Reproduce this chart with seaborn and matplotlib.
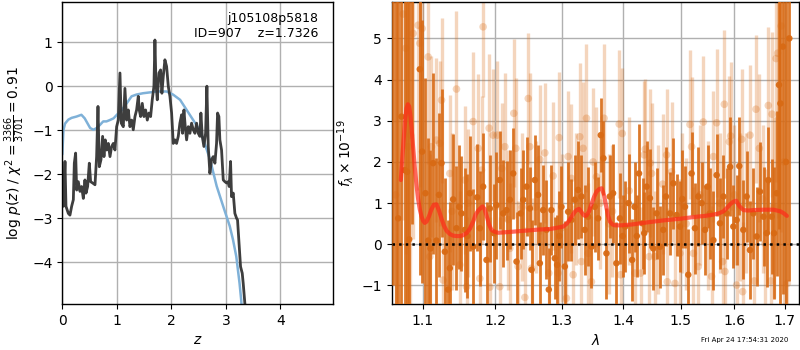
import matplotlib
matplotlib.use("Agg")
import matplotlib.pyplot as plt
import matplotlib.ticker as mticker
import numpy as np
import seaborn as sns

# redshift fit: log p(z) (dark) and prior (blue)
pz_z = [0.000, 0.018, 0.049, 0.067, 0.110, 0.140, 0.171, 0.202, 0.220, 0.244,
        0.263, 0.293, 0.324, 0.354, 0.385, 0.415, 0.434, 0.464, 0.495, 0.519,
        0.556, 0.599, 0.629, 0.654, 0.678, 0.709, 0.739, 0.764, 0.788, 0.812,
        0.843, 0.874, 0.904, 0.935, 0.965, 0.996, 1.026, 1.057, 1.081, 1.118,
        1.148, 1.179, 1.210, 1.240, 1.271, 1.301, 1.332, 1.362, 1.393, 1.411,
        1.436, 1.466, 1.497, 1.527, 1.558, 1.588, 1.619, 1.649, 1.680, 1.698,
        1.717, 1.741, 1.772, 1.802, 1.826, 1.851, 1.881, 1.912, 1.943, 1.973,
        2.004, 2.034, 2.065, 2.095, 2.126, 2.156, 2.187, 2.205, 2.230, 2.254,
        2.279, 2.309, 2.340, 2.370, 2.401, 2.431, 2.462, 2.492, 2.523, 2.541,
        2.566, 2.596, 2.627, 2.651, 2.676, 2.706, 2.737, 2.767, 2.798, 2.828,
        2.847, 2.871, 2.889, 2.920, 2.951, 2.981, 3.012, 3.042, 3.060, 3.085,
        3.103, 3.134, 3.164, 3.195, 3.213, 3.244, 3.268, 3.299, 3.317, 3.348,
        3.400]
pz_logp = [-2.43, -2.73, -1.71, -2.73, -2.89, -2.93, -2.73, -2.58, -1.75, -1.52,
           -2.36, -2.17, -2.39, -2.28, -2.55, -2.13, -2.43, -2.28, -1.75, -2.17,
           -2.20, -2.24, -1.60, -0.46, -1.83, -1.67, -1.14, -1.60, -1.22, -1.45,
           -1.30, -1.60, -1.37, -1.30, -1.45, -0.92, -0.77, 0.30, -0.84, -0.92,
           -0.05, -0.77, -0.54, -0.92, -0.77, -0.99, -0.69, -0.54, -0.23, -0.54,
           -0.69, -0.39, -0.69, -0.54, -0.77, -0.61, -0.69, -0.31, 0.00, 1.05,
           0.07, -0.31, 0.30, 0.37, -0.16, 0.22, 0.60, 0.45, 0.00, -0.23,
           -0.61, -1.30, -1.22, -1.30, -1.14, -0.84, -0.65, -1.07, -0.54, -0.92,
           -1.22, -0.92, -1.07, -0.84, -0.99, -1.07, -0.84, -1.07, -1.14, -0.61,
           -1.14, -1.37, -1.07, 0.00, -1.37, -1.98, -1.67, -1.60, -1.75, -1.30,
           -0.61, -0.69, -1.22, -1.45, -2.13, -2.17, -2.20, -2.17, -2.28, -1.71,
           -2.51, -2.43, -2.89, -3.00, -3.04, -3.64, -4.10, -4.25, -4.48, -4.95,
           -5.60]

prior_z = [0.00, 0.02, 0.05, 0.11, 0.17, 0.26, 0.35, 0.41, 0.46, 0.51,
           0.57, 0.63, 0.69, 0.75, 0.81, 0.87, 0.94, 1.00, 1.09, 1.18,
           1.27, 1.36, 1.48, 1.61, 1.73, 1.91, 2.03, 2.16, 2.28, 2.40,
           2.52, 2.61, 2.71, 2.83, 2.95, 3.07, 3.13, 3.19, 3.25, 3.28, 3.30]
prior_logp = [-1.55, -1.00, -0.85, -0.76, -0.72, -0.69, -0.65, -0.73, -0.84, -0.95,
              -0.99, -0.95, -0.88, -0.80, -0.80, -0.77, -0.73, -0.65, -0.54, -0.39,
              -0.23, -0.19, -0.16, -0.14, -0.12, -0.12, -0.19, -0.31, -0.54, -0.77,
              -1.00, -1.30, -1.67, -2.27, -2.73, -3.18, -3.49, -3.87, -4.48, -4.86, -5.20]

# spectrum, first orientation (dark)
dark_wave = [1.0620, 1.0652, 1.0683, 1.0725, 1.0768, 1.0799, 1.0825, 1.0868, 1.0964, 1.0995,
             1.1039, 1.1075, 1.1106, 1.1141, 1.1186, 1.1220, 1.1254, 1.1299, 1.1344, 1.1367,
             1.1412, 1.1458, 1.1495, 1.1527, 1.1574, 1.1610, 1.1643, 1.1690, 1.1747, 1.1784,
             1.1831, 1.1879, 1.1927, 1.1984, 1.2022, 1.2070, 1.2119, 1.2168, 1.2217, 1.2266,
             1.2315, 1.2375, 1.2414, 1.2464, 1.2514, 1.2539, 1.2589, 1.2639, 1.2665, 1.2715,
             1.2766, 1.2802, 1.2843, 1.2895, 1.2931, 1.2965, 1.2998, 1.3051, 1.3103, 1.3155,
             1.3208, 1.3261, 1.3314, 1.3367, 1.3421, 1.3475, 1.3529, 1.3583, 1.3627, 1.3670,
             1.3720, 1.3775, 1.3830, 1.3885, 1.3944, 1.3990, 1.4032, 1.4090, 1.4150, 1.4191,
             1.4230, 1.4268, 1.4328, 1.4357, 1.4398, 1.4456, 1.4514, 1.4572, 1.4631, 1.4689,
             1.4737, 1.4808, 1.4867, 1.4927, 1.4987, 1.5030, 1.5077, 1.5137, 1.5198, 1.5259,
             1.5320, 1.5382, 1.5445, 1.5491, 1.5537, 1.5601, 1.5662, 1.5725, 1.5790, 1.5851,
             1.5917, 1.5979, 1.6043, 1.6094, 1.6172, 1.6237, 1.6302, 1.6367, 1.6433, 1.6499,
             1.6570, 1.6632, 1.6665, 1.6732, 1.6779, 1.6832, 1.6880, 1.6909, 1.6959, 1.7023,
             1.7091]
dark_flux = [7.0, -2.0, 0.63, 3.1, 1.8, 1.76, 0.12, 6.5, 4.25, 2.25,
             1.24, 0.09, -0.1, 1.97, 0.09, 1.2, 1.97, -0.18, -1.1, -0.58,
             1.09, 0.39, 0.91, 0.75, 0.35, 0.2, 1.24, -0.06, 1.14, 0.39,
             1.4, -0.38, 0.87, 0.27, 0.95, 1.56, 0.75, 0.83, 1.08, 1.72,
             -0.42, 0.75, 1.08, 1.4, 0.87, -0.62, 1.56, 1.2, -0.46, 0.83,
             0.35, -1.1, 0.83, -0.34, -0.5, 0.2, 0.91, -0.54, 0.79, 0.59,
             1.08, 1.32, 1.16, 0.35, 0.67, -0.06, 0.91, 0.63, 2.65, 2.09,
             -0.22, 1.16, 1.24, -0.46, 0.63, 0.2, 0.43, 1.0, -0.38, 0.91,
             0.2, 1.72, 0.51, 0.27, 1.4, 1.12, -0.1, 0.75, -0.06, 0.35,
             1.16, 0.75, 1.48, 0.71, 0.43, 1.1, 0.91, -0.74, 1.72, 0.39,
             1.16, 1.0, 0.35, 1.4, 0.75, 0.1, 1.68, 0.51, 1.16, 0.75,
             1.88, 0.43, 0.59, 1.9, 0.35, 1.16, -0.14, 0.75, 0.19, 1.28,
             0.67, 0.27, 1.56, 0.67, 0.27, 1.24, 3.87, 3.42, 4.8, 2.0,
             5.0]
dark_err = [8.0, 8.0, 6.0, 6.0, 6.0, 6.0, 6.0, 6.0, 5.0, 3.2,
            2.8, 2.5, 2.4, 2.2, 2.0, 2.0, 1.8, 1.8, 1.7, 1.6,
            1.6, 1.5, 1.5, 1.4, 1.5, 1.5, 1.4, 1.4, 1.3, 1.4,
            1.3, 1.4, 1.3, 1.2, 1.3, 1.2, 1.3, 1.2, 1.2, 1.1,
            1.2, 1.1, 1.2, 1.2, 1.0, 1.2, 1.1, 1.2, 1.0, 1.1,
            1.2, 1.0, 1.1, 1.0, 1.2, 1.1, 1.0, 1.1, 1.2, 1.0,
            1.1, 1.2, 1.0, 1.1, 1.2, 1.0, 1.1, 1.0, 0.9, 0.9,
            1.1, 1.0, 1.2, 1.0, 1.1, 1.0, 1.1, 1.2, 1.0, 1.1,
            1.0, 1.2, 1.1, 1.0, 1.1, 1.2, 1.0, 1.1, 1.0, 1.1,
            1.2, 1.0, 1.1, 1.0, 1.1, 1.2, 1.0, 1.1, 1.0, 1.1,
            1.2, 1.0, 1.1, 1.0, 1.1, 1.2, 1.0, 1.1, 1.0, 1.1,
            1.2, 1.0, 1.1, 1.2, 1.2, 1.1, 1.2, 1.1, 1.2, 1.2,
            1.2, 1.3, 1.3, 1.4, 1.6, 2.0, 3.5, 5.0, 6.0, 7.0,
            5.9]

# spectrum, second orientation (light)
light_wave = [1.0650, 1.0747, 1.0781, 1.0812, 1.0842, 1.0877, 1.0942, 1.0964, 1.0995, 1.1075,
              1.1097, 1.1119, 1.1186, 1.1231, 1.1254, 1.1276, 1.1367, 1.1397, 1.1458, 1.1505,
              1.1574, 1.1597, 1.1620, 1.1690, 1.1761, 1.1784, 1.1808, 1.1831, 1.1917, 1.1927,
              1.1974, 1.2032, 1.2070, 1.2100, 1.2144, 1.2190, 1.2217, 1.2275, 1.2305, 1.2339,
              1.2400, 1.2439, 1.2490, 1.2514, 1.2539, 1.2600, 1.2665, 1.2741, 1.2802, 1.2869,
              1.2946, 1.2962, 1.3000, 1.3076, 1.3103, 1.3155, 1.3182, 1.3230, 1.3288, 1.3314,
              1.3341, 1.3395, 1.3421, 1.3475, 1.3502, 1.3556, 1.3620, 1.3681, 1.3760, 1.3820,
              1.3932, 1.3955, 1.3983, 1.4100, 1.4197, 1.4295, 1.4357, 1.4375, 1.4444, 1.4462,
              1.4485, 1.4543, 1.4600, 1.4678, 1.4748, 1.4760, 1.4837, 1.4897, 1.4987, 1.5030,
              1.5100, 1.5168, 1.5198, 1.5230, 1.5320, 1.5350, 1.5413, 1.5500, 1.5568, 1.5601,
              1.5662, 1.5720, 1.5775, 1.5807, 1.5819, 1.5902, 1.5928, 1.6000, 1.6043, 1.6100,
              1.6140, 1.6159, 1.6220, 1.6302, 1.6387, 1.6420, 1.6486, 1.6550, 1.6599, 1.6665,
              1.6712, 1.6740, 1.6780, 1.6821, 1.6853, 1.6925, 1.6980, 1.7050]
light_flux = [1.2, 5.59, 4.76, 2.37, 2.65, 5.12, 5.32, 4.88, 5.24, 4.55,
              -0.3, 2.37, 2.53, 2.45, 3.5, -0.87, 1.72, 0.8, 3.77, -0.5,
              1.56, -1.03, 1.0, 2.98, 2.33, -0.83, 1.8, 5.28, 2.82, -1.04,
              2.65, 2.65, -1.03, 1.84, 2.37, 0.6, -0.1, 3.18, 2.33, -0.54,
              0.9, -1.29, 3.54, 2.37, -0.58, 0.9, 2.06, 2.22, -0.7, 1.66,
              -0.7, 2.59, 0.4, -1.31, 2.13, 1.6, -0.74, 1.1, 2.61, -0.42,
              2.33, 3.06, -0.22, -0.91, 2.0, 1.64, 1.0, 3.06, 0.5, 0.8,
              2.92, -0.74, 2.69, 1.3, -0.7, -0.7, 2.17, 2.31, -0.3, 1.97,
              1.72, -0.3, 0.6, 1.46, 2.17, -0.91, 1.76, -0.95, -0.22, 1.0,
              0.5, 2.91, 2.37, -0.22, -0.54, 1.2, 2.97, 0.7, -0.78, 2.13,
              2.95, 1.0, -0.42, 3.4, -0.66, 2.49, 2.63, 1.2, -0.99, 0.9,
              2.55, -1.15, 1.0, 2.65, -0.89, 3.28, 2.33, 1.1, 0.02, 3.37,
              -0.89, 3.16, 0.9, 4.51, 4.64, 5.3, 2.0, -0.95]
light_err = [6.0, 5.0, 5.0, 5.0, 5.0, 5.0, 4.0, 3.5, 3.0, 2.6,
             2.5, 2.2, 2.0, 2.0, 2.0, 1.9, 1.9, 1.9, 1.9, 1.8,
             1.8, 1.7, 1.8, 1.7, 1.8, 1.7, 1.8, 1.7, 1.8, 1.7,
             1.6, 1.8, 1.7, 1.6, 1.8, 1.7, 1.6, 1.8, 1.7, 1.6,
             1.8, 1.7, 1.6, 1.8, 1.7, 1.6, 1.8, 1.7, 1.6, 1.8,
             1.7, 1.6, 1.8, 1.7, 1.6, 1.8, 1.7, 1.6, 1.8, 1.7,
             1.6, 1.8, 1.7, 1.6, 1.8, 1.7, 1.6, 1.8, 1.7, 1.6,
             1.8, 1.7, 1.6, 1.8, 1.7, 1.6, 1.8, 1.7, 1.6, 1.8,
             1.7, 1.6, 1.8, 1.7, 1.6, 1.8, 1.7, 1.6, 1.8, 1.7,
             1.6, 1.8, 1.7, 1.6, 1.8, 1.7, 1.6, 1.8, 1.7, 1.6,
             1.8, 1.7, 1.6, 1.8, 1.7, 1.6, 1.8, 1.7, 1.6, 1.8,
             1.7, 1.7, 1.7, 1.7, 1.7, 1.8, 1.8, 1.8, 1.8, 1.9,
             1.9, 2.0, 2.2, 3.0, 4.0, 5.0, 6.0, 6.0]

# best-fit model
model_wave = [1.0717, 1.0740, 1.0756, 1.0775, 1.0790, 1.0808, 1.0825, 1.0840, 1.0855, 1.0877,
              1.0899, 1.0920, 1.0942, 1.0964, 1.0986, 1.1008, 1.1030, 1.1053, 1.1086, 1.1119,
              1.1150, 1.1186, 1.1220, 1.1254, 1.1288, 1.1322, 1.1367, 1.1412, 1.1460, 1.1505,
              1.1550, 1.1597, 1.1645, 1.1690, 1.1725, 1.1761, 1.1790, 1.1822, 1.1850, 1.1879,
              1.1915, 1.1950, 1.2000, 1.2047, 1.2130, 1.2217, 1.2365, 1.2514, 1.2667, 1.2819,
              1.2925, 1.3025, 1.3080, 1.3130, 1.3170, 1.3209, 1.3245, 1.3278, 1.3310, 1.3342,
              1.3370, 1.3396, 1.3436, 1.3476, 1.3517, 1.3558, 1.3600, 1.3640, 1.3676, 1.3712,
              1.3745, 1.3778, 1.3820, 1.3861, 1.3950, 1.4140, 1.4397, 1.4689, 1.4987, 1.5291,
              1.5450, 1.5601, 1.5700, 1.5790, 1.5855, 1.5917, 1.5975, 1.6033, 1.6100, 1.6175,
              1.6270, 1.6371, 1.6570, 1.6770, 1.6909, 1.6980, 1.7041]
model_flux = [1.56, 2.20, 2.60, 3.05, 3.30, 3.40, 3.35, 3.15, 2.85, 2.35,
              1.85, 1.45, 1.10, 0.85, 0.68, 0.57, 0.52, 0.55, 0.68, 0.85,
              0.96, 0.97, 0.82, 0.62, 0.45, 0.33, 0.25, 0.21, 0.20, 0.20,
              0.22, 0.27, 0.38, 0.55, 0.72, 0.82, 0.87, 0.92, 0.86, 0.70,
              0.48, 0.35, 0.30, 0.28, 0.29, 0.30, 0.32, 0.34, 0.36, 0.37,
              0.40, 0.43, 0.50, 0.60, 0.70, 0.79, 0.84, 0.86, 0.79, 0.72,
              0.69, 0.70, 0.80, 0.98, 1.15, 1.28, 1.34, 1.36, 1.22, 0.95,
              0.70, 0.55, 0.48, 0.46, 0.46, 0.48, 0.53, 0.58, 0.62, 0.67,
              0.69, 0.72, 0.75, 0.80, 0.88, 0.97, 1.03, 1.06, 0.92, 0.83,
              0.82, 0.83, 0.84, 0.84, 0.80, 0.75, 0.69]

wave_ticks = [1.1, 1.2, 1.3, 1.4, 1.5, 1.6, 1.7]

sns.set_style("ticks", {"axes.grid": True, "grid.color": "#b0b0b0",
                        "axes.edgecolor": "black", "xtick.color": "black",
                        "ytick.color": "black", "text.color": "black",
                        "axes.labelcolor": "black", "xtick.direction": "out",
                        "ytick.direction": "out"})
plt.rcParams["font.family"] = ["DejaVu Sans"]
plt.rcParams["font.size"] = 10
plt.rcParams["grid.linewidth"] = 1.0
plt.rcParams["axes.linewidth"] = 1.0

fig = plt.figure(figsize=(8, 3.5), dpi=100)
ax1 = fig.add_axes([0.0779, 0.1314, 0.3388, 0.8637])
ax2 = fig.add_axes([0.4896, 0.1314, 0.5091, 0.8637])

# left: p(z)
sns.lineplot(x=prior_z, y=prior_logp, ax=ax1, color="#7fb1d8", lw=1.8,
             sort=False, estimator=None)
sns.lineplot(x=pz_z, y=pz_logp, ax=ax1, color="#333333", lw=2, alpha=0.95,
             sort=False, estimator=None)
ax1.set_xlim(0, 4.97)
ax1.set_ylim(-4.95, 1.92)
ax1.set_xticks([0, 1, 2, 3, 4])
ax1.set_yticks([-4, -3, -2, -1, 0, 1])
ax1.set_xlabel("$z$")
ax1.set_ylabel(r"log $p(z)$ / $\chi^2=\frac{3366}{3701}=0.91$")
ax1.text(0.944, 0.965, "j105108p5818\nID=907    z=1.7326", transform=ax1.transAxes,
         ha="right", va="top", fontsize=9, multialignment="right")

# right: spectrum
orange = "#d86a14"
ax2.set_xscale("log")
ax2.errorbar(light_wave, light_flux, yerr=light_err, fmt="none", ecolor=orange,
             elinewidth=2.4, alpha=0.28, zorder=2)
sns.scatterplot(x=light_wave, y=light_flux, ax=ax2, color=orange, s=30,
                alpha=0.28, edgecolor="none", zorder=2)
ax2.errorbar(dark_wave, dark_flux, yerr=dark_err, fmt="none", ecolor=orange,
             elinewidth=2.0, alpha=0.9, zorder=3)
sns.scatterplot(x=dark_wave, y=dark_flux, ax=ax2, color=orange, s=22,
                alpha=0.95, edgecolor="none", zorder=3)
sns.lineplot(x=model_wave, y=model_flux, ax=ax2, color="#ff2a1a", lw=3,
             alpha=0.7, sort=False, estimator=None, zorder=4)
ax2.axhline(0, color="black", ls=":", lw=1.8, zorder=5)

ax2.set_xlim(1.06, 1.729)
ax2.set_ylim(-1.45, 5.89)
ax2.xaxis.set_major_locator(mticker.FixedLocator(wave_ticks))
ax2.xaxis.set_major_formatter(mticker.FormatStrFormatter("%.1f"))
ax2.xaxis.set_minor_locator(mticker.NullLocator())
ax2.set_yticks([-1, 0, 1, 2, 3, 4, 5])
ax2.set_xlabel(r"$\lambda$")
ax2.set_ylabel(r"$f_\lambda\times10^{-19}$")

for ax in (ax1, ax2):
    ax.grid(True, color="#b0b0b0", lw=1.0)
    for sp in ax.spines.values():
        sp.set_visible(True)
        sp.set_color("black")

fig.text(0.986, 0.0286, "Fri Apr 24 17:54:31 2020", ha="right", va="center", fontsize=5)

fig.savefig("out.png", dpi=100)
